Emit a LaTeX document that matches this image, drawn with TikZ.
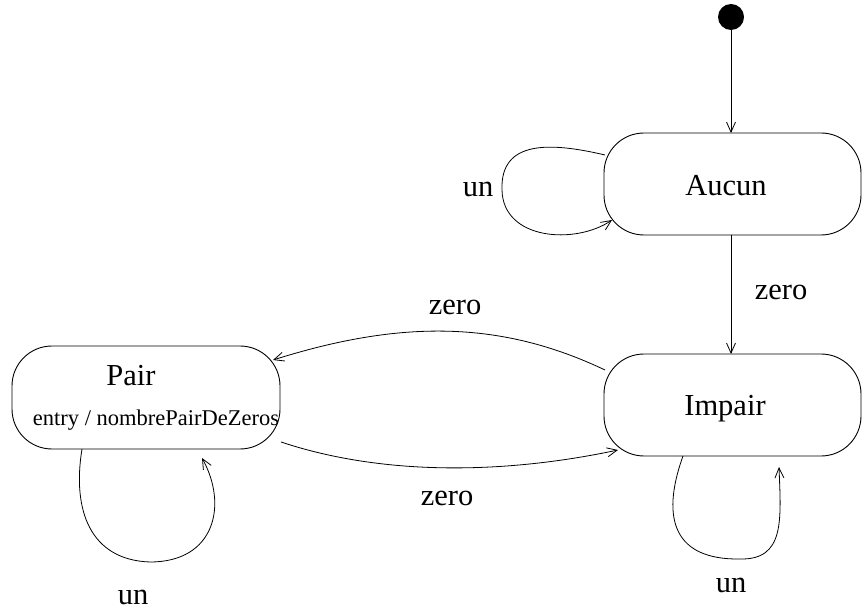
\documentclass[tikz,border=0pt]{standalone}
\usepackage{fontspec}
\setmainfont{Liberation Serif}
\usetikzlibrary{arrows.meta}

\tikzset{
  state/.style={draw, rounded corners=40pt, inner sep=0pt, outer sep=0pt,
    line width=0.9pt, minimum width=257pt, minimum height=102pt},
  initdot/.style={circle, fill=black, inner sep=0pt, minimum size=26pt},
  lbl/.style={font=\fontsize{30.5}{36}\selectfont, inner sep=0pt, anchor=base},
  small/.style={font=\fontsize{22.5}{27}\selectfont, inner sep=0pt, anchor=base},
  trans/.style={line width=0.8pt, -{Straight Barb[length=10pt,width=9pt,line width=0.8pt]}},
}

\begin{document}
\begin{tikzpicture}[x=1pt, y=-1pt]
\useasboundingbox (0,0) rectangle (862,609);

% states
\node[initdot] (init) at (731,17) {};
\node[state] (aucun)  at (732.5,184) {};
\node[state] (impair) at (732.5,405) {};
\node[state, minimum width=268pt, minimum height=103pt] (pair) at (146,397.5) {};

% state names and entry action
\node[lbl] (taucun)  at (726,196) {Aucun};
\node[lbl] (timpair) at (725,416) {Impair};
\node[lbl] (tpair)   at (131,385) {Pair};
\node[small] (tentry) at (156,425) {entry / nombrePairDeZeros};

% end points of the curved transitions
\coordinate (aOut) at (605,155);
\coordinate (aIn)  at (612,220);
\coordinate (pOut) at (82,449);
\coordinate (pIn)  at (202,458);
\coordinate (iOut) at (683,456);
\coordinate (iIn)  at (779,467);
\coordinate (izOut) at (605,370);
\coordinate (pzIn)  at (273,360);
\coordinate (pzOut) at (281,442);
\coordinate (izIn)  at (618,450);

% straight transitions
\draw[trans] (init.south) -- (aucun.north -| init.south);
\draw[trans] (aucun.south -| init.south) -- (impair.north -| init.south);

% self loops
\draw[trans] (aOut) .. controls (550,142) and (500,140) .. (502,190)
                    .. controls (503,240) and (575,245) .. (aIn);
\draw[trans] (pOut) .. controls (72,510) and (90,560) .. (150,562)
                    .. controls (215,562) and (228,505) .. (pIn);
\draw[trans] (iOut) .. controls (660,520) and (675,560) .. (740,559)
                    .. controls (785,560) and (781,520) .. (iIn);

% transitions between Impair and Pair
\draw[trans] (izOut) .. controls (500,320) and (400,320) .. (pzIn);
\draw[trans] (pzOut) .. controls (380,475) and (500,475) .. (izIn);

% transition labels
\node[lbl] (l1) at (781,300) {zero};
\node[lbl] (l2) at (455,315) {zero};
\node[lbl] (l3) at (447,505) {zero};
\node[lbl] (l4) at (478,197) {un};
\node[lbl] (l5) at (133,604) {un};
\node[lbl] (l6) at (731,592) {un};
\end{tikzpicture}
\end{document}
